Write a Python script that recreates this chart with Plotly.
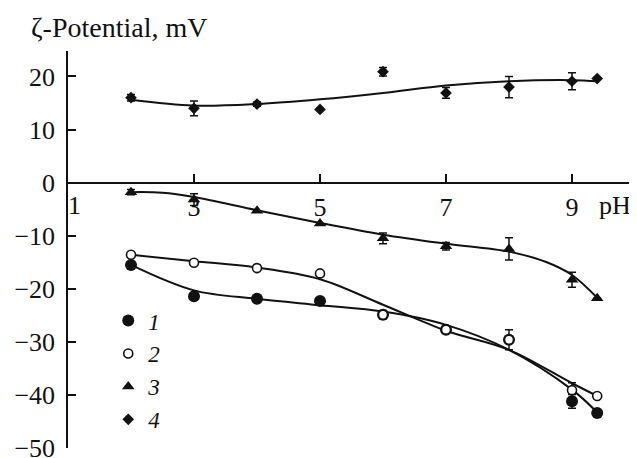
import plotly.graph_objects as go

# ---------------- data ----------------
ph = [2, 3, 4, 5, 6, 7, 8, 9, 9.4]

s1 = [-15.5, -21.4, -21.9, -22.3, -24.9, -27.7, -29.6, -41.2, -43.4]
e1 = [0, 0, 0, 0, 0, 0, 0, 1.3, 0]
s2 = [-13.6, -15.1, -16.1, -17.1, -24.9, -27.7, -29.6, -39.1, -40.2]
e2 = [0, 0, 0, 0, 0.8, 0.7, 1.9, 1.4, 0]
s3 = [-1.8, -3.2, -5.3, -7.7, -10.5, -12.0, -12.5, -18.3, -21.8]
e3 = [0.5, 1.1, 0, 0, 1.0, 0.7, 2.1, 1.4, 0]
s4 = [16.0, 14.0, 14.8, 13.8, 20.9, 16.9, 18.0, 19.1, 19.6]
e4 = [0.6, 1.4, 0.4, 0, 0.8, 1.0, 2.0, 1.6, 0]

# fitted curves
fit_x = [2, 3, 4, 5, 6, 7, 8, 9, 9.4]
fit1 = [-15.5, -20.3, -21.9, -23.1, -24.3, -26.8, -31.5, -39.0, -43.3]
fit2 = [-13.6, -14.8, -16.0, -18.2, -23.0, -27.9, -31.5, -37.8, -40.2]
fit3_x = [2, 2.5, 3, 4, 5, 6, 7, 8, 8.6, 9, 9.4]
fit3 = [-1.8, -1.9, -2.7, -5.2, -7.6, -9.8, -11.5, -13.0, -15.0, -17.4, -21.7]
fit4 = [15.6, 14.5, 14.8, 15.7, 16.9, 18.3, 19.1, 19.3, 19.1]

series_names = ["1", "2", "3", "4"]
x_tickvals = [1, 3, 5, 7, 9]
x_ticktext = ["", "3", "5", "7", "9"]
y_tickvals = [-50, -40, -30, -20, -10, 0, 10, 20]

# ---------------- figure ----------------
INK = "#111111"
FONT = "Liberation Serif"

fig = go.Figure()

for fx, fy in [(fit_x, fit1), (fit_x, fit2), (fit3_x, fit3), (fit_x, fit4)]:
    fig.add_trace(go.Scatter(x=fx, y=fy, mode="lines", showlegend=False,
                             line=dict(color=INK, width=2, shape="spline", smoothing=1.0),
                             hoverinfo="skip"))

def err(e):
    return dict(type="data", array=e, visible=True, color=INK, thickness=1.5, width=4)

fig.add_trace(go.Scatter(x=ph, y=s1, mode="markers", name=series_names[0], error_y=err(e1),
                         marker=dict(symbol="circle", size=12, color=INK, line=dict(width=0))))
fig.add_trace(go.Scatter(x=ph, y=s2, mode="markers", name=series_names[1], error_y=err(e2),
                         marker=dict(symbol="circle", size=9, color="white",
                                     line=dict(color=INK, width=1.6))))
fig.add_trace(go.Scatter(x=ph, y=s3, mode="markers", name=series_names[2], error_y=err(e3),
                         marker=dict(symbol="triangle-up", size=11, color=INK, line=dict(width=0))))
fig.add_trace(go.Scatter(x=ph, y=s4, mode="markers", name=series_names[3], error_y=err(e4),
                         marker=dict(symbol="diamond", size=9, color=INK, line=dict(width=0))))

# page body has an 8px margin -> figure is 629x450 drawn at (8, 8)
fig.update_layout(
    width=629, height=450,
    margin=dict(l=60, r=2, t=43, b=10, autoexpand=False),
    plot_bgcolor="white", paper_bgcolor="white",
    font=dict(family=FONT, size=26, color=INK),
    legend=dict(x=0.071, y=0.375, xanchor="left", yanchor="top",
                bgcolor="rgba(0,0,0,0)", borderwidth=0,
                font=dict(family=FONT, size=23, style="italic"),
                itemsizing="trace", tracegroupgap=0),
    xaxis=dict(range=[1, 10], showgrid=False, zeroline=False, automargin=False,
               anchor="free", position=50 / 74.8,
               showline=True, linecolor=INK, linewidth=1.5,
               ticks="inside", ticklen=8, tickwidth=1.5, tickcolor=INK,
               tickvals=x_tickvals, ticktext=x_ticktext,
               ticklabelstandoff=1, ticklabeloverflow="allow",
               tickfont=dict(family=FONT, size=26)),
    yaxis=dict(range=[-50, 24.8], showgrid=False, zeroline=False, automargin=False,
               showline=True, linecolor=INK, linewidth=1.5,
               ticks="inside", ticklen=8, tickwidth=1.5, tickcolor=INK,
               tickvals=y_tickvals, ticklabelstandoff=6, ticklabeloverflow="allow",
               tickfont=dict(family=FONT, size=26)),
    annotations=[
        dict(text="ζ-Potential, mV", xref="paper", yref="paper",
             x=-0.069, y=1 + 24 / 397, xanchor="left", yanchor="middle",
             showarrow=False, font=dict(family=FONT, size=28)),
        dict(text="pH", xref="x", yref="y", x=9.68, y=-4.3,
             xanchor="center", yanchor="middle", showarrow=False,
             font=dict(family=FONT, size=26)),
        dict(text="1", xref="x", yref="y", x=1.1, y=-4.3,
             xanchor="center", yanchor="middle", showarrow=False,
             font=dict(family=FONT, size=26)),
    ],
)

fig.write_html("out.html")
